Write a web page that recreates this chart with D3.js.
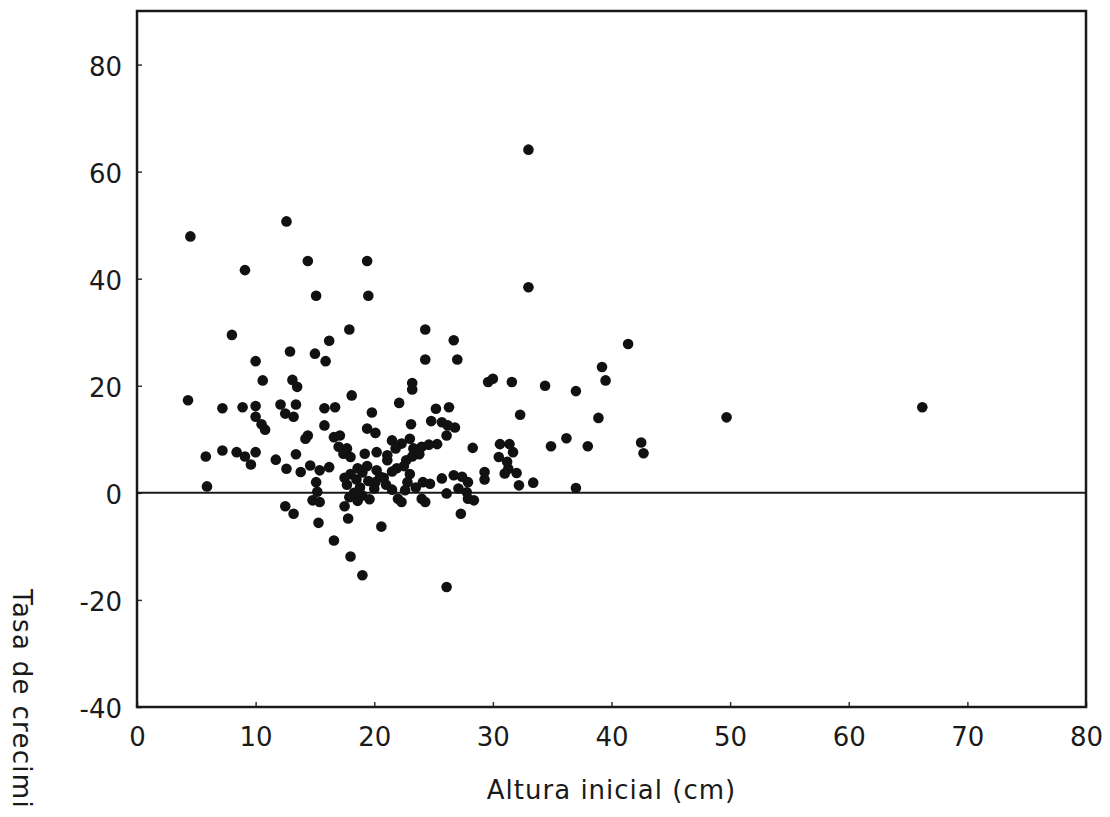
<!DOCTYPE html>
<html>
<head>
<meta charset="utf-8">
<script src="https://cdn.jsdelivr.net/npm/d3@7"></script>
<style>
  body { margin: 0; background: #fff; }
  svg { display: block; }
  text { font-family: "DejaVu Sans", Verdana, sans-serif; fill: #1a1a1a; }
</style>
</head>
<body>
<div class="growth-scatterplot"></div>
<script>
// data: initial height (cm) and growth rate
const alturaInicial = [
  4.5, 12.6, 9.1, 14.4, 19.4, 15.1, 19.5, 33.0, 33.0, 49.7, 66.2,
  8.0, 17.9, 16.2, 12.9, 15.0, 15.9, 10.0, 10.6, 13.1, 13.5, 18.1,
  4.3, 7.2, 8.9, 10.0, 12.1, 13.4, 12.5, 13.2, 15.8, 16.7, 19.8,
  10.0, 10.5, 10.8, 15.8, 14.4, 14.2, 16.6, 17.1, 17.0, 17.7, 18.0, 17.4, 19.4, 20.1,
  5.8, 7.2, 8.4, 9.1, 9.6, 10.0, 11.7, 12.6, 13.4, 13.8, 14.6, 15.4, 16.2,
  15.1, 15.2, 14.8, 15.4, 5.9, 12.5, 13.2, 15.3, 17.5, 17.8, 20.6, 16.6, 18.0, 19.0, 26.1, 27.3,
  24.3, 26.7, 24.3, 27.0, 29.6, 30.0, 31.6, 34.4, 23.2, 23.2, 22.1, 25.2, 26.3, 32.3,
  23.1, 24.8, 25.7, 26.2, 26.8, 26.1, 21.5, 22.3, 23.0, 21.8, 25.3, 28.3,
  30.6, 31.4, 31.7, 30.5, 31.2, 34.9, 20.2, 21.1, 23.3, 24.0, 22.7,
  29.3, 29.3, 32.2, 33.4, 31.3, 31.0, 32.0, 27.9, 28.4, 27.1, 27.8, 26.1,
  26.7, 27.4, 27.9, 25.7, 24.7, 24.1, 24.0, 24.3, 22.0, 22.3, 20.1, 20.2, 21.1,
  22.5, 23.0, 22.8, 23.5, 22.6,
  18.0, 18.5, 19.0, 17.7, 18.8, 19.5, 18.3, 19.0, 17.9, 20.0, 19.6, 18.6, 20.5, 21.0, 21.5, 17.5,
  23.2, 23.8, 19.2,
  21.9, 23.6, 24.6, 19.4, 18.6, 20.8, 21.5,
  37.0, 39.2, 39.5, 38.9, 36.2, 38.0, 37.0, 41.4, 42.5, 42.7
];

const tasaCrecimiento = [
  47.9, 50.7, 41.6, 43.3, 43.3, 36.8, 36.8, 64.1, 38.4, 14.1, 16.0,
  29.5, 30.5, 28.4, 26.4, 26.0, 24.6, 24.6, 21.0, 21.1, 19.8, 18.2,
  17.3, 15.8, 16.0, 16.2, 16.5, 16.5, 14.8, 14.2, 15.8, 16.0, 15.0,
  14.2, 12.8, 11.8, 12.6, 10.7, 10.1, 10.4, 10.7, 8.6, 8.3, 6.7, 7.3, 12.0, 11.2,
  6.8, 7.9, 7.6, 6.8, 5.3, 7.6, 6.2, 4.5, 7.2, 3.9, 5.1, 4.2, 4.8,
  2.0, 0.2, -1.4, -1.7, 1.2, -2.5, -3.9, -5.6, -2.5, -4.8, -6.3, -8.9, -11.9, -15.4, -17.6, -3.9,
  30.5, 28.5, 24.9, 24.9, 20.7, 21.3, 20.7, 20.0, 20.5, 19.3, 16.8, 15.7, 16.0, 14.6,
  12.8, 13.4, 13.2, 12.6, 12.2, 10.7, 9.8, 9.2, 10.1, 8.3, 9.1, 8.4,
  9.1, 9.1, 7.6, 6.7, 5.8, 8.7, 7.6, 7.0, 8.3, 8.6, 6.1,
  3.9, 2.5, 1.4, 1.9, 4.5, 3.6, 3.7, -1.1, -1.4, 0.8, 0.1, -0.1,
  3.3, 3.0, 2.0, 2.7, 1.7, 2.0, -1.1, -1.7, -1.1, -1.7, 2.0, 4.2, 6.1,
  5.0, 3.5, 2.0, 1.0, 0.5,
  3.5, 2.5, 3.8, 1.5, 1.0, 2.2, 0.0, -0.5, -0.8, 0.8, -1.2, -1.5, 3.0, 1.5, 4.0, 2.8,
  6.8, 7.2, 7.3,
  4.6, 7.8, 9.0, 5.0, 4.6, 2.8, 0.6,
  19.0, 23.5, 21.0, 14.0, 10.2, 8.7, 0.9, 27.8, 9.4, 7.4
];

const xTicks = [0, 10, 20, 30, 40, 50, 60, 70, 80];
const yTicks = [-40, -20, 0, 20, 40, 60, 80];

const xLabel = "Altura inicial (cm)";
// the reference page cuts this title at the bottom edge
const yLabel = "Tasa de crecimi";

function renderScatterplot() {

    // constants
    const width = 1110;
    const height = 817;
    const left = 137, right = 1086, top = 11, bottom = 707;
    const font_size = 26;

    let points = alturaInicial.map(function(x, i) {
        return { "altura": x, "tasa": tasaCrecimiento[i] };
    });

    let svg = d3.select(".growth-scatterplot").append("svg")
        .attr("width", width)
        .attr("height", height);

    // scales
    const x_scale = d3.scaleLinear().domain([0, 80]).range([left, right]);
    const y_scale = d3.scaleLinear().domain([-40, 90]).range([bottom, top]);

    // x axis, ticks pointing inward
    const x_axis = d3.axisBottom(x_scale)
        .tickValues(xTicks)
        .tickFormat(function(d) { return String(d); })
        .tickSize(-5)
        .tickPadding(21);
    const gx = svg.append("g")
        .attr("transform", "translate(0," + bottom + ")")
        .call(x_axis);

    // y axis
    const y_axis = d3.axisLeft(y_scale)
        .tickValues(yTicks)
        .tickFormat(function(d) { return String(d); })
        .tickSize(-5)
        .tickPadding(15);
    const gy = svg.append("g")
        .attr("transform", "translate(" + left + ",0)")
        .call(y_axis);

    [gx, gy].forEach(function(g) {
        g.select(".domain").remove();
        g.selectAll(".tick line").attr("stroke", "#333").attr("stroke-width", 1.5);
        g.selectAll(".tick text")
            .style("font-family", '"DejaVu Sans", Verdana, sans-serif')
            .style("font-size", font_size + "px")
            .attr("fill", "#1a1a1a");
    });
    gy.selectAll(".tick text").attr("dy", "0.42em");

    // frame
    svg.append("rect")
        .attr("x", left)
        .attr("y", top)
        .attr("width", right - left)
        .attr("height", bottom - top)
        .attr("fill", "none")
        .attr("stroke", "#1a1a1a")
        .attr("stroke-width", 2.5);

    // zero line
    svg.append("line")
        .attr("x1", left)
        .attr("x2", right)
        .attr("y1", y_scale(0))
        .attr("y2", y_scale(0))
        .attr("stroke", "#1a1a1a")
        .attr("stroke-width", 2);

    // dots
    svg.selectAll(".dot")
        .data(points).enter()
        .append("circle")
        .attr("class", "dot")
        .attr("r", 5.3)
        .attr("cx", function(d) { return x_scale(d["altura"]); })
        .attr("cy", function(d) { return y_scale(d["tasa"]); })
        .attr("fill", "#111");

    // labels
    svg.append("text")
        .attr("text-anchor", "middle")
        .attr("x", (left + right) / 2)
        .attr("y", 799)
        .style("font-size", font_size + "px")
        .style("letter-spacing", "1px")
        .text(xLabel);

    svg.append("text")
        .attr("text-anchor", "start")
        .attr("transform", "translate(13,589) rotate(90)")
        .style("font-size", font_size + "px")
        .style("letter-spacing", "1.3px")
        .text(yLabel);
}

renderScatterplot();
</script>
</body>
</html>
